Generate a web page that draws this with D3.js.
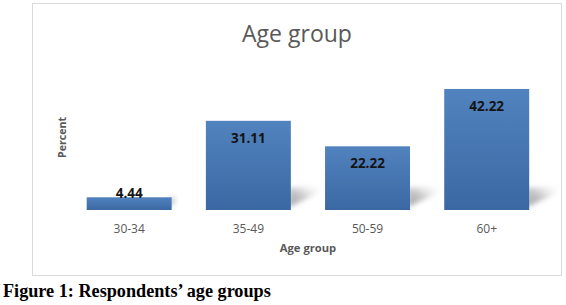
<!DOCTYPE html>
<html>
<head>
<meta charset="utf-8">
<script src="https://cdn.jsdelivr.net/npm/d3@7"></script>
<style>
  body { margin: 0; background: #fff; }
  svg { display: block; }
</style>
</head>
<body>
<div id="chart"></div>
<script>
// data
const categories = ["30-34", "35-49", "50-59", "60+"];
const values = [4.44, 31.11, 22.22, 42.22];
const yMax = 45;

const W = 566, H = 305;
const base = 210;

const svg = d3.select("#chart").append("svg")
    .attr("width", W)
    .attr("height", H);

const defs = svg.append("defs");

// bar fill, lighter on top
const barGrad = defs.append("linearGradient")
    .attr("id", "barGrad")
    .attr("x1", 0).attr("y1", 0).attr("x2", 0).attr("y2", 1);
barGrad.append("stop").attr("offset", "0%").attr("stop-color", "#5183bf");
barGrad.append("stop").attr("offset", "100%").attr("stop-color", "#3b68a2");

// shadow fade
const shGrad = defs.append("linearGradient")
    .attr("id", "shGrad")
    .attr("x1", 0).attr("y1", 1).attr("x2", 1).attr("y2", 0);
shGrad.append("stop").attr("offset", "0%").attr("stop-color", "#a0a0a0");
shGrad.append("stop").attr("offset", "45%").attr("stop-color", "#c8c8c8");
shGrad.append("stop").attr("offset", "100%").attr("stop-color", "#ffffff").attr("stop-opacity", 0);

defs.append("filter").attr("id", "blur")
    .attr("x", "-30%").attr("y", "-30%").attr("width", "160%").attr("height", "160%")
    .append("feGaussianBlur").attr("stdDeviation", 2.5);

// chart frame
svg.append("rect")
    .attr("x", 32.5).attr("y", 3.5)
    .attr("width", 529).attr("height", 272)
    .attr("fill", "#fff")
    .attr("stroke", "#d9d9d9");

const x = d3.scaleBand()
    .domain(categories)
    .range([69.6, 546.3])
    .paddingInner(0.287)
    .paddingOuter(0.1435);

const y = d3.scaleLinear()
    .domain([0, yMax])
    .range([base, 81]);

// title
svg.append("text")
    .attr("x", 297).attr("y", 41.7)
    .attr("text-anchor", "middle")
    .attr("font-family", "Open Sans")
    .attr("font-size", 23)
    .attr("fill", "#595959")
    .text("Age group");

// shadows behind bars
svg.append("g").selectAll("polygon")
    .data(values)
    .enter().append("polygon")
    .attr("points", (d, i) => {
        const x1 = x(categories[i]) + x.bandwidth() - 2;
        const h = Math.min(base - y(d), 22);
        const w = h < 20 ? 7 : 32;
        return [
            [x1, base - 3],
            [x1, base - h],
            [x1 + w, base - h - 3],
            [x1 + w, base - h + 4]
        ].map(p => p.join(",")).join(" ");
    })
    .attr("fill", "url(#shGrad)")
    .attr("filter", "url(#blur)");

// bars
svg.append("g").selectAll("rect")
    .data(values)
    .enter().append("rect")
    .attr("x", (d, i) => x(categories[i]))
    .attr("y", d => y(d))
    .attr("width", x.bandwidth())
    .attr("height", d => base - y(d))
    .attr("fill", "url(#barGrad)");

// value labels
svg.append("g").selectAll("text")
    .data(values)
    .enter().append("text")
    .attr("x", (d, i) => x(categories[i]) + x.bandwidth() / 2)
    .attr("y", d => Math.min(y(d) + 22, base - 12))
    .attr("text-anchor", "middle")
    .attr("font-family", "Open Sans")
    .attr("font-weight", "bold")
    .attr("font-size", 13.5)
    .attr("fill", "#141414")
    .text(d => d.toFixed(2));

// category ticks
const xAxis = svg.append("g")
    .attr("transform", `translate(0,${base})`)
    .call(d3.axisBottom(x).tickSize(0).tickPadding(0));
xAxis.select(".domain").remove();
xAxis.selectAll("text")
    .attr("dy", null)
    .attr("y", 22.7)
    .attr("font-family", "Open Sans")
    .attr("font-size", 12)
    .attr("fill", "#595959");

// axis titles
svg.append("text")
    .attr("x", 308).attr("y", 252.3)
    .attr("text-anchor", "middle")
    .attr("font-family", "Open Sans")
    .attr("font-weight", "bold")
    .attr("font-size", 11.2)
    .attr("fill", "#595959")
    .text("Age group");

svg.append("text")
    .attr("transform", "translate(65.5,137.5) rotate(-90)")
    .attr("text-anchor", "middle")
    .attr("font-family", "Open Sans")
    .attr("font-weight", "bold")
    .attr("font-size", 10.6)
    .attr("fill", "#595959")
    .text("Percent");

// figure caption
svg.append("text")
    .attr("x", 3).attr("y", 296.5)
    .attr("font-family", "Liberation Serif")
    .attr("font-weight", "bold")
    .attr("font-size", 18.2)
    .attr("fill", "#000")
    .text("Figure 1: Respondents\u2019 age groups");
</script>
</body>
</html>
